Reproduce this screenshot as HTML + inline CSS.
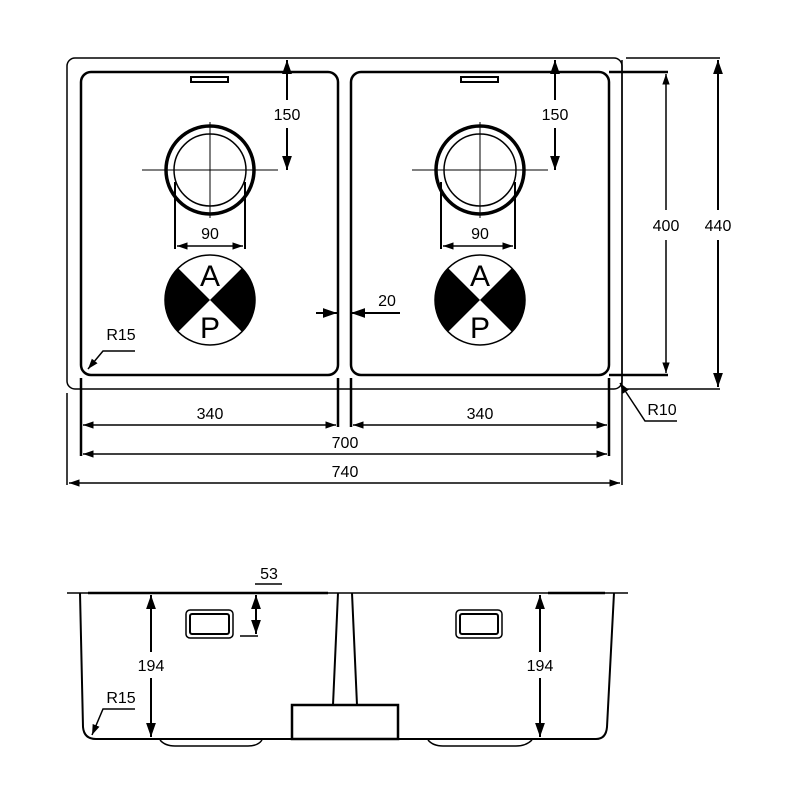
<!DOCTYPE html>
<html><head><meta charset="utf-8"><style>html,body{margin:0;padding:0;background:#fff}svg{display:block}text{font-family:"Liberation Sans",sans-serif;fill:#000}</style></head>
<body>
<svg width="800" height="800" viewBox="0 0 800 800" xmlns="http://www.w3.org/2000/svg">
<defs>
<marker id="a" viewBox="0 0 10 10" refX="10" refY="5" markerWidth="7" markerHeight="7" orient="auto-start-reverse"><path d="M0,1.5 L10,5 L0,8.5 Z" fill="#000"/></marker>
</defs>
<g fill="none" stroke="#000">
<rect x="67" y="58" width="555" height="331" rx="8" stroke-width="1.5"/>
<rect x="81" y="72" width="257" height="303" rx="10" stroke-width="2.5"/>
<rect x="351" y="72" width="258" height="303" rx="10" stroke-width="2.5"/>
<rect x="191" y="77" width="37" height="5" stroke-width="2"/>
<rect x="461" y="77" width="37" height="5" stroke-width="2"/>
<circle cx="210" cy="170" r="44" stroke-width="3.5"/><circle cx="210" cy="170" r="36" stroke-width="1.5"/>
<line x1="142" y1="170" x2="278" y2="170" stroke-width="1"/><line x1="210" y1="122" x2="210" y2="218" stroke-width="1"/>
<circle cx="480" cy="170" r="44" stroke-width="3.5"/><circle cx="480" cy="170" r="36" stroke-width="1.5"/>
<line x1="412" y1="170" x2="548" y2="170" stroke-width="1"/><line x1="480" y1="122" x2="480" y2="218" stroke-width="1"/>
<path d="M175,182 V249 M245,182 V249 M441,182 V249 M515,182 V249" stroke-width="2"/>
<line x1="177" y1="246" x2="243" y2="246" stroke-width="1.5" marker-start="url(#a)" marker-end="url(#a)"/>
<line x1="443" y1="246" x2="513" y2="246" stroke-width="1.5" marker-start="url(#a)" marker-end="url(#a)"/>
<line x1="287" y1="100" x2="287" y2="60" stroke-width="2" marker-end="url(#a)"/>
<line x1="287" y1="128" x2="287" y2="170" stroke-width="2" marker-end="url(#a)"/>
<line x1="555" y1="100" x2="555" y2="60" stroke-width="2" marker-end="url(#a)"/>
<line x1="555" y1="128" x2="555" y2="170" stroke-width="2" marker-end="url(#a)"/>
<circle cx="210" cy="300" r="45" stroke-width="1.5"/>
<circle cx="480" cy="300" r="45" stroke-width="1.5"/>
<line x1="316" y1="313" x2="337" y2="313" stroke-width="2" marker-end="url(#a)"/>
<line x1="400" y1="313" x2="351" y2="313" stroke-width="2" marker-end="url(#a)"/>
<polyline points="135,351 103,351 88,369" stroke-width="1.5" marker-end="url(#a)"/>
<polyline points="677,421 645,421 620,383" stroke-width="1.5" marker-end="url(#a)"/>
<path d="M81,378 V456 M338,378 V427 M351,378 V427 M609,378 V456" stroke-width="2.5"/>
<path d="M67,393 V485 M622,60 V485" stroke-width="1.5"/>
<line x1="83" y1="425" x2="336" y2="425" stroke-width="1.5" marker-start="url(#a)" marker-end="url(#a)"/>
<line x1="353" y1="425" x2="607" y2="425" stroke-width="1.5" marker-start="url(#a)" marker-end="url(#a)"/>
<line x1="83" y1="454" x2="607" y2="454" stroke-width="1.5" marker-start="url(#a)" marker-end="url(#a)"/>
<line x1="69" y1="483" x2="620" y2="483" stroke-width="1.5" marker-start="url(#a)" marker-end="url(#a)"/>
<path d="M609,72 H668 M609,375 H668" stroke-width="2.5"/>
<path d="M626,58 H720 M622,389 H720" stroke-width="1.5"/>
<line x1="666" y1="210" x2="666" y2="74" stroke-width="1.5" marker-end="url(#a)"/>
<line x1="666" y1="240" x2="666" y2="373" stroke-width="1.5" marker-end="url(#a)"/>
<line x1="718" y1="210" x2="718" y2="60" stroke-width="2" marker-end="url(#a)"/>
<line x1="718" y1="240" x2="718" y2="387" stroke-width="2" marker-end="url(#a)"/>
<line x1="67" y1="593" x2="628" y2="593" stroke-width="1.5"/>
<line x1="88" y1="593" x2="328" y2="593" stroke-width="2.5"/>
<line x1="548" y1="593" x2="605" y2="593" stroke-width="2.5"/>
<path d="M80,593 L83,727 Q84,739 96,739 L596,739 Q606,739 607,727 L614,593" stroke-width="2"/>
<path d="M338,593 L333,705 M352,593 L357,705" stroke-width="2"/>
<rect x="292" y="705" width="106" height="34" stroke-width="2.5"/>
<path d="M160,740 Q165,746 175,746 H248 Q258,746 262,740" stroke-width="1.5"/>
<path d="M428,740 Q433,746 443,746 H516 Q526,746 532,740" stroke-width="1.5"/>
<rect x="186" y="610" width="47" height="28" rx="4" stroke-width="1.5"/>
<rect x="190" y="614" width="39" height="20" rx="2" stroke-width="2"/>
<rect x="456" y="610" width="46" height="28" rx="4" stroke-width="1.5"/>
<rect x="460" y="614" width="38" height="20" rx="2" stroke-width="2"/>
<path d="M255,584 H282 M240,636 H258" stroke-width="1.5"/>
<line x1="256" y1="595" x2="256" y2="634" stroke-width="2" marker-start="url(#a)" marker-end="url(#a)"/>
<line x1="151" y1="652" x2="151" y2="595" stroke-width="2" marker-end="url(#a)"/>
<line x1="151" y1="678" x2="151" y2="737" stroke-width="2" marker-end="url(#a)"/>
<line x1="540" y1="652" x2="540" y2="595" stroke-width="2" marker-end="url(#a)"/>
<line x1="540" y1="678" x2="540" y2="737" stroke-width="2" marker-end="url(#a)"/>
<polyline points="135,709 103,709 92,735" stroke-width="1.5" marker-end="url(#a)"/>
</g>
<path d="M210,300 L178.2,268.2 A45,45 0 0,0 178.2,331.8 Z M210,300 L241.8,268.2 A45,45 0 0,1 241.8,331.8 Z" fill="#000"/>
<path d="M480,300 L448.2,268.2 A45,45 0 0,0 448.2,331.8 Z M480,300 L511.8,268.2 A45,45 0 0,1 511.8,331.8 Z" fill="#000"/>
<g text-anchor="middle" style="font-size:30px">
<text x="210" y="286">A</text><text x="210" y="338">P</text>
<text x="480" y="286">A</text><text x="480" y="338">P</text>
</g>
<g text-anchor="middle" style="font-size:16px">
<text x="287" y="120">150</text><text x="555" y="120">150</text>
<text x="210" y="239">90</text><text x="480" y="239">90</text>
<text x="387" y="306">20</text>
<text x="121" y="340">R15</text>
<text x="662" y="415">R10</text>
<text x="210" y="419">340</text><text x="480" y="419">340</text>
<text x="345" y="448">700</text>
<text x="345" y="477">740</text>
<text x="666" y="231">400</text>
<text x="718" y="231">440</text>
<text x="269" y="579">53</text>
<text x="151" y="671">194</text>
<text x="540" y="671">194</text>
<text x="121" y="703">R15</text>
</g>
</svg>
</body></html>
